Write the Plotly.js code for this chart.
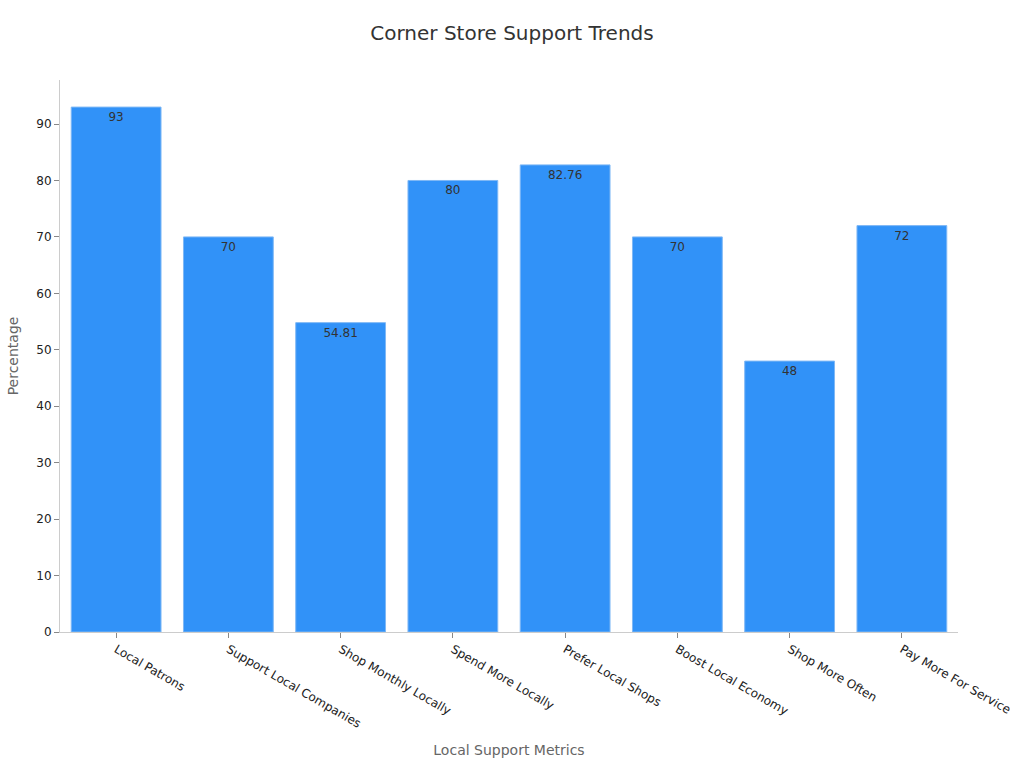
<!DOCTYPE html>
<html>
<head>
<meta charset="utf-8">
<script src="https://cdn.plot.ly/plotly-3.0.1.min.js"></script>
<style>
  html, body { margin: 0; padding: 0; background: #fff; }
  #chart { width: 1024px; height: 768px; }
</style>
</head>
<body>
<div id="chart"></div>
<script>
  // Chart values
  var categories = [
    "Local Patrons",
    "Support Local Companies",
    "Shop Monthly Locally",
    "Spend More Locally",
    "Prefer Local Shops",
    "Boost Local Economy",
    "Shop More Often",
    "Pay More For Service"
  ];
  var percentages = [93, 70, 54.81, 80, 82.76, 70, 48, 72];
  var valueLabels = ["93", "70", "54.81", "80", "82.76", "70", "48", "72"];

  var FONT = "DejaVu Sans, sans-serif";

  var trace = {
    type: "bar",
    x: categories,
    y: percentages,
    text: valueLabels,
    textposition: "inside",
    insidetextanchor: "end",
    textangle: 0,
    textfont: { family: FONT, size: 12, color: "#333333" },
    marker: {
      color: "#3192f8",
      line: { color: "#7fb8f5", width: 1 }
    },
    hoverinfo: "x+y"
  };

  var layout = {
    width: 1024,
    height: 768,
    paper_bgcolor: "#ffffff",
    plot_bgcolor: "#ffffff",
    font: { family: FONT, size: 12, color: "#333333" },
    title: {
      text: "Corner Store Support Trends",
      font: { family: FONT, size: 20, color: "#333333" },
      x: 0.5,
      y: 0.957,
      xanchor: "center",
      yanchor: "middle"
    },
    margin: { l: 60, r: 66, t: 80, b: 136 },
    bargap: 0.2,
    showlegend: false,
    xaxis: {
      title: {
        text: "Local Support Metrics",
        font: { family: FONT, size: 14, color: "#666666" },
        standoff: 15
      },
      tickangle: 30,
      tickfont: { family: FONT, size: 12, color: "#222222" },
      showline: true,
      linecolor: "#cccccc",
      ticks: "outside",
      tickcolor: "#888888",
      ticklen: 5,
      showgrid: false,
      zeroline: false
    },
    yaxis: {
      title: {
        text: "Percentage",
        font: { family: FONT, size: 14, color: "#666666" },
        standoff: 14
      },
      range: [0, 97.8],
      dtick: 10,
      tickfont: { family: FONT, size: 12, color: "#222222" },
      showline: true,
      linecolor: "#cccccc",
      ticks: "outside",
      tickcolor: "#888888",
      ticklen: 5,
      showgrid: false,
      zeroline: false
    }
  };

  Plotly.newPlot("chart", [trace], layout, { displayModeBar: false, responsive: false });
</script>
</body>
</html>
